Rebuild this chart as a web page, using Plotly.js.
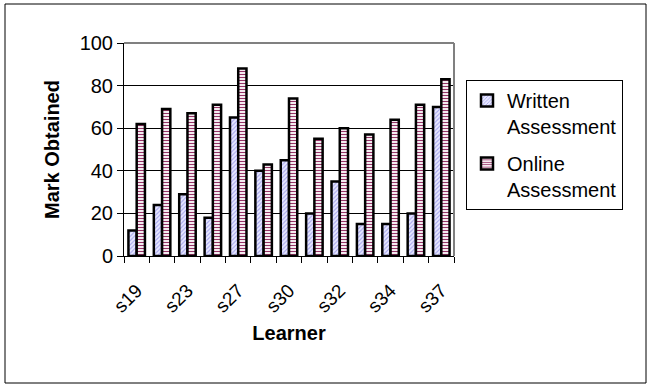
<!DOCTYPE html>
<html>
<head>
<meta charset="utf-8">
<script src="https://cdn.plot.ly/plotly-3.0.1.min.js"></script>
<style>
  html, body { margin: 0; padding: 0; background: #fff; }
  #chart { width: 652px; height: 385px; }
</style>
</head>
<body>
<div id="chart"></div>
<script>
// Learners on the category axis (only every other name is labelled)
const learners = ['s19', 's21', 's23', 's25', 's27', 's28', 's30', 's31', 's32', 's33', 's34', 's35', 's37'];
// Marks per learner
const writtenMarks = [12, 24, 29, 18, 65, 40, 45, 20, 35, 15, 15, 20, 70];
const onlineMarks  = [62, 69, 67, 71, 88, 43, 74, 55, 60, 57, 64, 71, 83];
const seriesNames = ['Written<br>Assessment', 'Online<br>Assessment'];
const yTicks = [0, 20, 40, 60, 80, 100];

const tickText = learners.map((n, i) => (i % 2 === 0 ? n : ''));

const FONT = 'Liberation Sans, Arial, sans-serif';
const W = 652, H = 385;
const M = { l: 124, r: 198, t: 43, b: 129 };
const pw = W - M.l - M.r, ph = H - M.t - M.b;
// paper-coordinate helpers for pixel positions
const px = x => (x - M.l) / pw;
const py = y => (H - M.b - y) / ph;

const traces = [
  {
    type: 'bar',
    name: seriesNames[0],
    legendgroup: 'written',
    x: learners,
    y: writtenMarks,
    marker: {
      color: '#dcdcfa',
      line: { color: '#000', width: 2.5 },
      pattern: { shape: '/', fgcolor: '#a4a4ec', bgcolor: '#e8e8ff', size: 3, solidity: 0.35 }
    },
    hoverinfo: 'x+y'
  },
  {
    type: 'bar',
    name: seriesNames[1],
    legendgroup: 'online',
    x: learners,
    y: onlineMarks,
    marker: {
      color: '#ffffff',
      line: { color: '#000', width: 2.5 },
      pattern: { shape: '-', fgcolor: '#953366', bgcolor: '#ffffff', size: 3, solidity: 0.4 }
    },
    hoverinfo: 'x+y'
  }
];

const layout = {
  width: W, height: H,
  margin: M,
  paper_bgcolor: '#fff',
  plot_bgcolor: '#fff',
  font: { family: FONT, size: 20, color: '#000' },
  barmode: 'group',
  bargap: 0.35,
  bargroupgap: 0,
  showlegend: true,
  legend: {
    x: px(466), y: py(80), xanchor: 'left', yanchor: 'top',
    bordercolor: '#000', borderwidth: 1, bgcolor: '#fff',
    font: { family: FONT, size: 20, color: '#000' },
    valign: 'top', traceorder: 'grouped', tracegroupgap: 8
  },
  xaxis: {
    type: 'category',
    tickvals: learners,
    ticktext: tickText,
    tickson: 'boundaries',
    ticks: 'outside', ticklen: 6, tickcolor: '#000', tickwidth: 1,
    tickangle: -45,
    ticklabelstandoff: 15,
    tickfont: { family: FONT, size: 19, color: '#000' },
    showline: true, linecolor: '#000', linewidth: 1,
    showgrid: false, zeroline: false,
    title: { text: '<b>Learner</b>', font: { family: FONT, size: 20, color: '#000' }, standoff: 10 }
  },
  yaxis: {
    range: [0, 100],
    tickvals: yTicks,
    ticks: 'outside', ticklen: 6, tickcolor: '#000', tickwidth: 1,
    tickfont: { family: FONT, size: 20, color: '#000' },
    showline: true, linecolor: '#000', linewidth: 1,
    showgrid: true, gridcolor: '#000', gridwidth: 1,
    zeroline: false,
    title: { text: '<b>Mark Obtained</b>', font: { family: FONT, size: 20, color: '#000' }, standoff: 14 }
  },
  shapes: [
    // plot-area frame: grey top and right edges
    { type: 'line', xref: 'paper', yref: 'paper', x0: 0, x1: 1, y0: 1, y1: 1, line: { color: '#808080', width: 2 } },
    { type: 'line', xref: 'paper', yref: 'paper', x0: 1, x1: 1, y0: 0, y1: 1, line: { color: '#808080', width: 2 } },
    // outer chart border
    { type: 'rect', xref: 'paper', yref: 'paper', x0: px(5), x1: px(646), y0: py(4), y1: py(383),
      line: { color: '#000', width: 1 }, layer: 'below' }
  ]
};

Plotly.newPlot('chart', traces, layout, { staticPlot: true, displayModeBar: false });
</script>
</body>
</html>
